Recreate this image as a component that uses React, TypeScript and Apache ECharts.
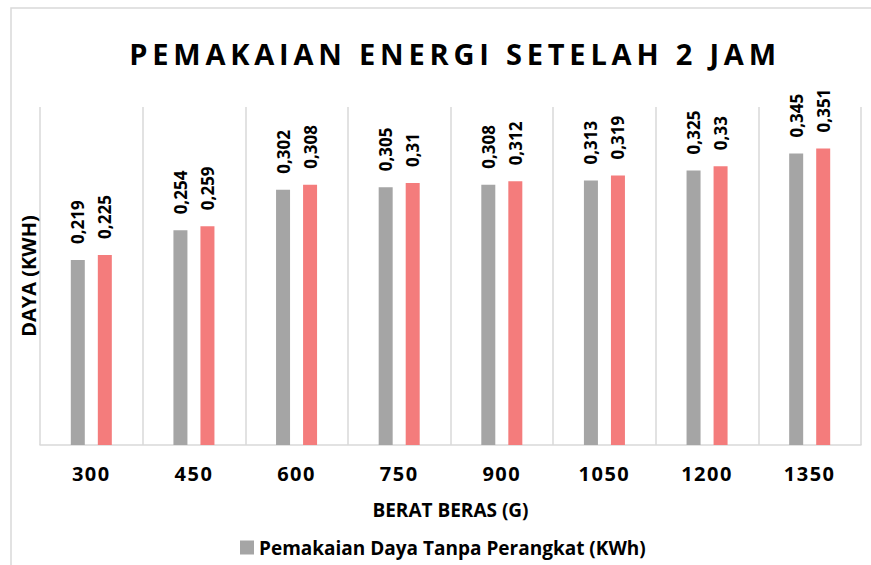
import React, { useEffect, useRef } from 'react';
import * as echarts from 'echarts';

const categories = ['300', '450', '600', '750', '900', '1050', '1200', '1350'];
const tanpaPerangkat = [0.219, 0.254, 0.302, 0.305, 0.308, 0.313, 0.325, 0.345];
const denganPerangkat = [0.225, 0.259, 0.308, 0.31, 0.312, 0.319, 0.33, 0.351];
const seriesNames = ['Pemakaian Daya Tanpa Perangkat (KWh)', 'Pemakaian Daya Dengan Perangkat (KWh)'];
const titleText = 'PEMAKAIAN ENERGI SETELAH 2 JAM';
const xAxisTitle = 'BERAT BERAS (G)';
const yAxisTitle = 'DAYA (KWH)';
const yMin = 0;
const yMax = 0.4;

export default function App() {
  const ref = useRef<HTMLDivElement>(null);
  useEffect(() => {
    const el = ref.current!;
    const chart = echarts.init(el, null, { renderer: 'svg' });
    const font = "'Open Sans', sans-serif";
    const fmt = (p: any) => String(p.value).replace('.', ',');
    const label = {
      show: true,
      position: 'top',
      rotate: 90,
      align: 'left',
      verticalAlign: 'middle',
      distance: 16,
      fontSize: 17,
      fontWeight: 'bold',
      fontFamily: font,
      color: '#000',
      formatter: fmt,
    };
    chart.setOption({
      animation: false,
      backgroundColor: '#fff',
      textStyle: { fontFamily: font },
      title: {
        text: titleText,
        left: 455,
        top: 39,
        textAlign: 'center',
        padding: 0,
        textStyle: { fontSize: 29, fontWeight: 'bold', color: '#000', fontFamily: font },
      },
      graphic: [
        {
          type: 'rect',
          silent: true,
          shape: { x: 11, y: 8, width: 900, height: 620 },
          style: { fill: 'none', stroke: '#D9D9D9', lineWidth: 1.5 },
        },
      ],
      grid: { left: 40, right: 10, top: 107, bottom: 120 },
      legend: {
        data: [seriesNames[0]],
        left: 240,
        top: 538,
        padding: 0,
        itemWidth: 14,
        itemHeight: 14,
        icon: 'rect',
        textStyle: { fontSize: 19, fontWeight: 'bold', color: '#000', fontFamily: font },
      },
      xAxis: {
        type: 'category',
        data: categories,
        name: xAxisTitle,
        nameLocation: 'middle',
        nameGap: 55,
        nameTextStyle: { fontSize: 19, fontWeight: 'bold', color: '#000', fontFamily: font },
        axisLine: { lineStyle: { color: '#D9D9D9', width: 1.5 } },
        axisTick: { show: false },
        axisLabel: { fontSize: 20, fontWeight: 'bold', color: '#000', margin: 18, fontFamily: font },
        splitLine: { show: true, lineStyle: { color: '#D9D9D9', width: 1.5 } },
      },
      yAxis: {
        type: 'value',
        min: yMin,
        max: yMax,
        name: yAxisTitle,
        nameLocation: 'middle',
        nameGap: 2,
        nameRotate: 90,
        nameTextStyle: { fontSize: 20, fontWeight: 'bold', color: '#000', fontFamily: font },
        axisLine: { show: false },
        axisTick: { show: false },
        axisLabel: { show: false },
        splitLine: { show: false },
      },
      series: [
        {
          name: seriesNames[0],
          type: 'bar',
          data: tanpaPerangkat,
          barWidth: 14,
          barGap: '93%',
          itemStyle: { color: '#A5A5A5' },
          label,
        },
        {
          name: seriesNames[1],
          type: 'bar',
          data: denganPerangkat,
          barWidth: 14,
          itemStyle: { color: '#F47C7C' },
          label,
        },
      ],
    });
    // letter spacing like the original's spaced capitals
    el.querySelectorAll('text').forEach((t) => {
      const s = t.textContent || '';
      if (s === titleText) t.setAttribute('letter-spacing', '4.8');
      else if (categories.indexOf(s) >= 0) t.setAttribute('letter-spacing', '1.5');
    });
    return () => chart.dispose();
  }, []);
  return <div ref={ref} style={{ position: 'absolute', left: 0, top: 0, width: 871, height: 565 }} />;
}
